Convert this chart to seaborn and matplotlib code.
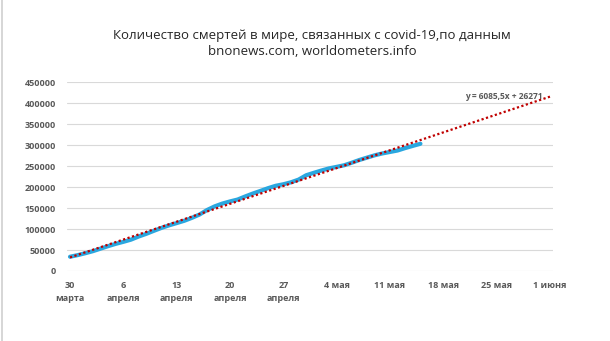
import matplotlib
matplotlib.use("Agg")
import matplotlib.pyplot as plt
import seaborn as sns
import pandas as pd
import numpy as np
from matplotlib.lines import Line2D

# ---------------- data ----------------
title_text = "Количество смертей в мире, связанных с covid-19,по данным\nbnonews.com, worldometers.info"
start_date = "2020-03-30"
deaths = [33976, 37800, 42300, 47200, 53200, 59200, 64700, 69500, 74700, 82100,
          88500, 95700, 102700, 108800, 114200, 119700, 126700, 134600, 145500, 154200,
          160800, 165900, 170400, 177800, 184700, 191000, 197500, 203200, 206800, 211500,
          217900, 228300, 234100, 239600, 244700, 248300, 252200, 258300, 264800, 270400,
          275900, 280300, 283800, 287300, 293100, 298300, 303400]
trend_slope = 6085.5
trend_intercept = 26271
trend_last_x = 64
equation_label = "y = 6085,5x + 26271"
tick_dates = ["2020-03-30", "2020-04-06", "2020-04-13", "2020-04-20", "2020-04-27",
              "2020-05-04", "2020-05-11", "2020-05-18", "2020-05-25", "2020-06-01"]
tick_labels = ["30\nмарта", "6\nапреля", "13\nапреля", "20\nапреля", "27\nапреля",
               "4 мая", "11 мая", "18 мая", "25 мая", "1 июня"]
y_ticks = [0, 50000, 100000, 150000, 200000, 250000, 300000, 350000, 400000, 450000]

# ---------------- frames ----------------
dates = pd.date_range(start_date, periods=len(deaths), freq="D")
df = pd.DataFrame({"date": dates, "deaths": deaths})
trend_x = np.arange(1, trend_last_x + 1)
trend_df = pd.DataFrame({
    "date": pd.date_range(start_date, periods=len(trend_x), freq="D"),
    "trend": trend_slope * trend_x + trend_intercept,
})

sns.set_theme(style="white")
plt.rcParams["font.family"] = ["Open Sans", "DejaVu Sans"]

fig = plt.figure(figsize=(6.1, 3.41), dpi=100)
ax = fig.add_axes([0.1098, 0.2053, 0.7967, 0.5534])

sns.lineplot(data=df, x="date", y="deaths", ax=ax, color="#2AA7DF",
             linewidth=3.0, solid_capstyle="round", zorder=3)
sns.lineplot(data=trend_df, x="date", y="trend", ax=ax, color="#C00000",
             linewidth=1.6, linestyle=(0, (1, 1.1)), zorder=4)

t0 = pd.Timestamp(start_date)
ax.set_xlim(t0 - pd.Timedelta(hours=9.5), t0 + pd.Timedelta(days=63, hours=9.5))
ax.set_ylim(0, 450000)

ax.set_xticks(pd.to_datetime(tick_dates))
ax.set_xticklabels(tick_labels)
ax.set_yticks(y_ticks)
ax.set_yticklabels([str(v) for v in y_ticks])

for lab in ax.get_xticklabels():
    lab.set_linespacing(1.55)
    lab.set_fontsize(6.5)
    lab.set_color("#595959")
    lab.set_fontweight("bold")
for lab in ax.get_yticklabels():
    lab.set_fontsize(6.5)
    lab.set_color("#595959")
    lab.set_fontweight("bold")

ax.tick_params(axis="x", length=0, pad=7)
ax.tick_params(axis="y", length=0, pad=8)
ax.set_xlabel("")
ax.set_ylabel("")
for s in ax.spines.values():
    s.set_visible(False)
ax.yaxis.grid(True, color="#D9D9D9", linewidth=0.8)
ax.xaxis.grid(False)
ax.set_axisbelow(True)

ax.text(t0 + pd.Timedelta(days=62.1), 416000, equation_label, ha="right", va="center",
        fontsize=6, fontweight="bold", color="#595959", zorder=5)

fig.text(0.512, 0.873, title_text, ha="center", va="center", fontsize=9.5,
         color="#262626", linespacing=1.25)

fig.add_artist(Line2D([0.003, 0.003], [0, 1], transform=fig.transFigure,
                      color="#D0D0D0", linewidth=1.2))

fig.savefig("out.png", dpi=100)
